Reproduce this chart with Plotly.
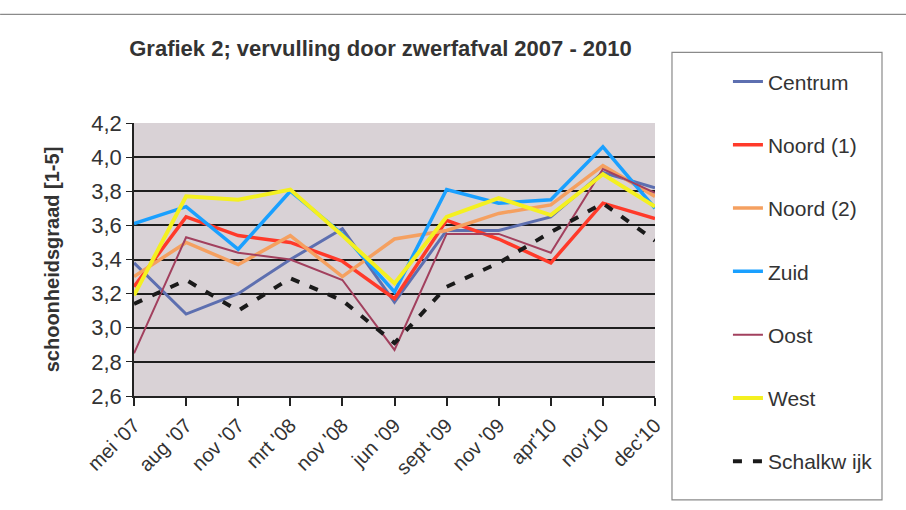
import plotly.graph_objects as go

categories = ["mei '07", "aug '07", "nov '07", "mrt '08", "nov '08", "jun '09",
              "sept '09", "nov '09", "apr'10", "nov'10", "dec'10"]

centrum = [3.38, 3.08, 3.20, 3.40, 3.58, 3.15, 3.57, 3.57, 3.65, 3.91, 3.82]
noord1 = [3.24, 3.65, 3.54, 3.50, 3.39, 3.17, 3.63, 3.52, 3.38, 3.73, 3.64]
noord2 = [3.30, 3.50, 3.37, 3.54, 3.30, 3.52, 3.57, 3.67, 3.72, 3.95, 3.77]
zuid = [3.61, 3.71, 3.46, 3.80, 3.55, 3.21, 3.81, 3.73, 3.75, 4.06, 3.70]
oost = [2.85, 3.53, 3.44, 3.40, 3.28, 2.87, 3.55, 3.55, 3.44, 3.93, 3.79]
west = [3.19, 3.77, 3.75, 3.81, 3.54, 3.26, 3.65, 3.76, 3.66, 3.90, 3.71]
schalkwijk = [3.14, 3.28, 3.10, 3.29, 3.16, 2.91, 3.24, 3.38, 3.56, 3.73, 3.51]

series = [
    ("Centrum", centrum, "#5d6fb0", 3, "solid"),
    ("Noord (1)", noord1, "#ff3a2a", 3.5, "solid"),
    ("Noord (2)", noord2, "#f5a060", 3.5, "solid"),
    ("Zuid", zuid, "#1aa0ff", 3.5, "solid"),
    ("Oost", oost, "#a2405e", 2, "solid"),
    ("West", west, "#f4f020", 4, "solid"),
    ("Schalkw ijk", schalkwijk, "#1a1a1a", 4, "9px,11px"),
]

fig = go.Figure()
for i, (name, vals, color, width, dash) in enumerate(series):
    fig.add_trace(go.Scatter(
        x=categories, y=vals, mode="lines", name=name,
        legendgroup=f"g{i}",
        line=dict(color=color, width=width, dash=dash),
    ))

fig.update_layout(
    width=906, height=510,
    margin=dict(l=134, r=251, t=123, b=114, autoexpand=False),
    paper_bgcolor="white",
    plot_bgcolor="#d9d2d6",
    separators=",.",
    font=dict(family="Arial, Liberation Sans, sans-serif", color="#333333", size=16),
    title=dict(
        text="<b>Grafiek 2; vervulling door zwerfafval 2007 - 2010</b>",
        x=0.42, xanchor="center", y=0.906, yanchor="middle", xref="container", yref="container",
        font=dict(size=22, color="#333333"),
    ),
    showlegend=True,
    legend=dict(
        x=1.14, xanchor="left", y=1.226, yanchor="top",
        font=dict(size=21, color="#333333"),
        tracegroupgap=33, traceorder="grouped",
        bgcolor="rgba(0,0,0,0)", borderwidth=0,
        maxheight=480,
    ),
    xaxis=dict(
        type="category", range=[0, 10],
        tickangle=-45, tickfont=dict(size=20, color="#333333"),
        showgrid=False, showline=True, linecolor="#222222", linewidth=1.5,
        ticks="outside", ticklen=8, tickcolor="#222222", tickwidth=1.5,
        zeroline=False,
    ),
    yaxis=dict(
        range=[2.6, 4.2], dtick=0.2, tickformat=".1f",
        tickfont=dict(size=22, color="#333333"),
        showgrid=True, gridcolor="#1e1e1e", gridwidth=1.5,
        showline=True, linecolor="#222222", linewidth=1.5,
        ticks="outside", ticklen=6, tickcolor="#222222",
        zeroline=False,
        title=dict(text="<b>schoonheidsgraad [1-5]</b>", font=dict(size=20, color="#333333"), standoff=26),
    ),
    shapes=[
        dict(type="rect", xref="paper", yref="paper",
             x0=1.0326, x1=1.4357, y0=-0.3805, y1=1.2587,
             line=dict(color="#8a8a8a", width=1.2), fillcolor="rgba(0,0,0,0)", layer="below"),
        dict(type="line", xref="paper", yref="paper",
             x0=-0.257, x1=1.5, y0=1.3977, y1=1.3977,
             line=dict(color="#8a8a8a", width=1.2)),
    ],
)

fig.write_html("out.html", config={"displayModeBar": False},
               post_script="document.body.style.margin='0';document.body.style.padding='0';")
